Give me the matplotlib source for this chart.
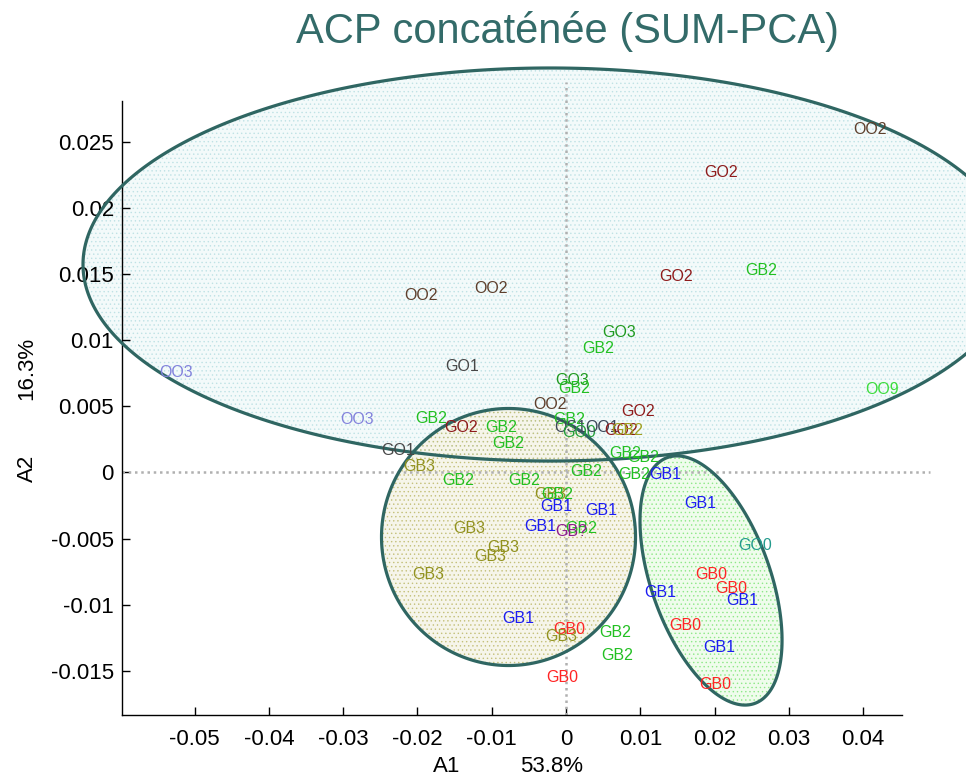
import numpy as np
import matplotlib
matplotlib.use('Agg')
import matplotlib.pyplot as plt
from matplotlib.patches import Polygon

plt.rcParams['font.family'] = ['Liberation Sans', 'DejaVu Sans']

# ---------------- data ----------------
labels = ["OO2", "GO2", "GO2", "GB2", "OO9", "OO2", "OO2", "GO3", "GB2", "GO1",
          "GO3", "GB2", "OO2", "GO2", "OO3", "OO3", "GB2", "GO2", "GB2", "GB2",
          "GO1", "GB3", "GB2", "GB2", "GB2", "GB2", "GB2", "GB2", "GB1", "GB3",
          "GB2", "GB1", "GB1", "GB1", "GB2", "GB?", "GB3", "GB3", "GB3", "GB3",
          "GB1", "GB0", "GB3", "GB2", "GB2", "GB0", "GB1", "GO0", "GB0", "GB0",
          "GB1", "GB1", "GB0", "GB1", "GB0", "GB2", "OS1", "GO0", "OO1", "GO2",
          "GB2"]
a1 = [0.04092, 0.02086, 0.01480, 0.02624, 0.04253, -0.01952, -0.01009, 0.00713, 0.00431, -0.01400,
      0.00081, 0.00108, -0.00215, 0.00969, -0.05249, -0.02813, -0.01817, -0.01413, -0.00875, -0.00781,
      -0.02261, -0.01978, -0.01454, -0.00565, 0.00269, 0.00794, 0.01036, 0.00915, 0.01332, -0.00215,
      -0.00121, -0.00135, 0.00471, -0.00350, 0.00202, 0.00067, -0.01306, -0.00848, -0.01023, -0.01857,
      -0.00646, 0.00040, -0.00067, 0.00660, 0.00686, -0.00054, 0.01803, 0.02544, 0.01952, 0.02221,
      0.02369, 0.01265, 0.01602, 0.02059, 0.02005, 0.00040, 0.00054, 0.00175, 0.00485, 0.00740,
      0.00821]
a2 = [0.02591, 0.02266, 0.01479, 0.01524, 0.00624, 0.01335, 0.01388, 0.01055, 0.00934, 0.00798,
      0.00692, 0.00632, 0.00511, 0.00458, 0.00760, 0.00397, 0.00405, 0.00337, 0.00337, 0.00216,
      0.00163, 0.00049, -0.00057, -0.00057, 0.00011, 0.00140, 0.00110, -0.00019, -0.00019, -0.00170,
      -0.00163, -0.00261, -0.00291, -0.00412, -0.00427, -0.00450, -0.00427, -0.00564, -0.00632, -0.00775,
      -0.01108, -0.01191, -0.01244, -0.01214, -0.01388, -0.01554, -0.00238, -0.00556, -0.00775, -0.00874,
      -0.00972, -0.00904, -0.01161, -0.01320, -0.01607, 0.00397, 0.00344, 0.00299, 0.00337, 0.00314,
      0.00314]
label_color_keys = ["OO2", "GO2", "GO2", "GB2", "OO9", "OO2", "OO2", "GO3", "GB2", "GO1",
                    "GO3", "GB2", "OO2", "GO2", "OO3", "OO3", "GB2", "GO2", "GB2", "GB2",
                    "GO1", "GB3", "GB2", "GB2", "GB2", "GB2", "GB2", "GB2", "GB1", "GB3",
                    "GB2", "GB1", "GB1", "GB1", "GB2", "GB?", "GB3", "GB3", "GB3", "GB3",
                    "GB1", "GB0", "GB3", "GB2", "GB2", "GB0", "GB1", "GO0r", "GB0", "GB0",
                    "GB1", "GB1", "GB0", "GB1", "GB0", "GB2", "OS1", "GO0c", "OS1", "GO2",
                    "GB2o"]
palette = {"OO2": "#5e3f2c", "GO2": "#8e1b1b", "GB2": "#22c022", "OO9": "#3ddc3d",
           "GO3": "#1f9a1f", "GO1": "#474747", "OO3": "#8282dc", "GB3": "#929220",
           "GB1": "#1c1cf2", "GB0": "#ff2424", "GB?": "#8e1c8e", "GO0r": "#229a8c",
           "GO0c": "#23a03a", "OS1": "#3b4658", "GB2o": "#a0a020"}

x_ticks = [-0.05, -0.04, -0.03, -0.02, -0.01, 0, 0.01, 0.02, 0.03, 0.04]
x_tick_labels = ["-0.05", "-0.04", "-0.03", "-0.02", "-0.01", "0", "0.01", "0.02", "0.03", "0.04"]
y_ticks = [-0.015, -0.01, -0.005, 0, 0.005, 0.01, 0.015, 0.02, 0.025]
y_tick_labels = ["-0.015", "-0.01", "-0.005", "0", "0.005", "0.01", "0.015", "0.02", "0.025"]

title = "ACP concaténée (SUM-PCA)"
x_name, x_pct = "A1", "53.8%"
y_name, y_pct = "A2", "16.3%"

# ellipse shapes (center, semi-axis vector 1, semi-axis vector 2), data units
ell_big = ((-0.00215, 0.01573), (0.06286, 0.0), (0.0, 0.014864))
ell_mid = ((-0.00774, -0.00488), (0.017093, 0.0), (0.0, 0.00972))
ell_right = ((0.019516, -0.008169), (0.005861, -0.009302), (0.007551, 0.001503))
ell_styles = [(ell_big, "#f3fafa", "#bfe2e5"),
              (ell_mid, "#f6f5ea", "#c4c07a"),
              (ell_right, "#effcec", "#8ee888")]
outline_color = "#2f6662"

# ---------------- figure ----------------
fig = plt.figure(figsize=(9.66, 7.79), dpi=100)
ax = fig.add_axes([122.3 / 966, 1 - 714.7 / 779, 780 / 966, 614 / 779])
ax.set_xlim(-0.05972, 0.04526)
ax.set_ylim(-0.01832, 0.02812)

plt.rcParams['hatch.linewidth'] = 0.5
t = np.linspace(0, 2 * np.pi, 400)
for (c, u, v), face, hcol in ell_styles:
    xs = c[0] + u[0] * np.cos(t) + v[0] * np.sin(t)
    ys = c[1] + u[1] * np.cos(t) + v[1] * np.sin(t)
    pts = np.column_stack([xs, ys])
    ax.add_patch(Polygon(pts, closed=True, facecolor=face, edgecolor='none',
                         zorder=1, clip_on=False))
    ax.add_patch(Polygon(pts, closed=True, facecolor='none', edgecolor=hcol,
                         hatch='....', linewidth=0, zorder=1.1, clip_on=False))
    ax.add_patch(Polygon(pts, closed=True, facecolor='none', edgecolor=outline_color,
                         linewidth=2.3, zorder=3, clip_on=False))

# zero reference lines
ax.plot([-0.05972, 0.049], [0, 0], linestyle=(0, (1, 1.5)), color='#b0b0b0',
        linewidth=1.8, zorder=2, clip_on=False)
ax.plot([0, 0], [-0.01832, 0.02954], linestyle=(0, (1, 1.5)), color='#b0b0b0',
        linewidth=1.8, zorder=2, clip_on=False)

for lab, xv, yv, ck in zip(labels, a1, a2, label_color_keys):
    ax.text(xv, yv, lab, color=palette[ck], fontsize=11.5, ha='center',
            va='center', zorder=4)

for s in ['top', 'right']:
    ax.spines[s].set_visible(False)
for s in ['left', 'bottom']:
    ax.spines[s].set_color('#000000')
    ax.spines[s].set_linewidth(1.0)

ax.set_xticks(x_ticks)
ax.set_xticklabels(x_tick_labels)
ax.set_yticks(y_ticks)
ax.set_yticklabels(y_tick_labels)
ax.tick_params(direction='in', length=6, width=1, labelsize=16, pad=10,
               colors='#000000')
ax.tick_params(axis='y', pad=6)

fig.text(567.5 / 966, 1 - 32 / 779, title, fontsize=30, color='#336b69',
         ha='center', va='center')
fig.text(447 / 966, 1 - 767 / 779, x_name, fontsize=16, ha='center', va='center')
fig.text(552 / 966, 1 - 767 / 779, x_pct, fontsize=16, ha='center', va='center')
fig.text(27 / 966, 1 - 468 / 779, y_name, fontsize=16, ha='center', va='center', rotation=90)
fig.text(27 / 966, 1 - 368 / 779, y_pct, fontsize=16, ha='center', va='center', rotation=90)

fig.savefig('out.png', dpi=100)
